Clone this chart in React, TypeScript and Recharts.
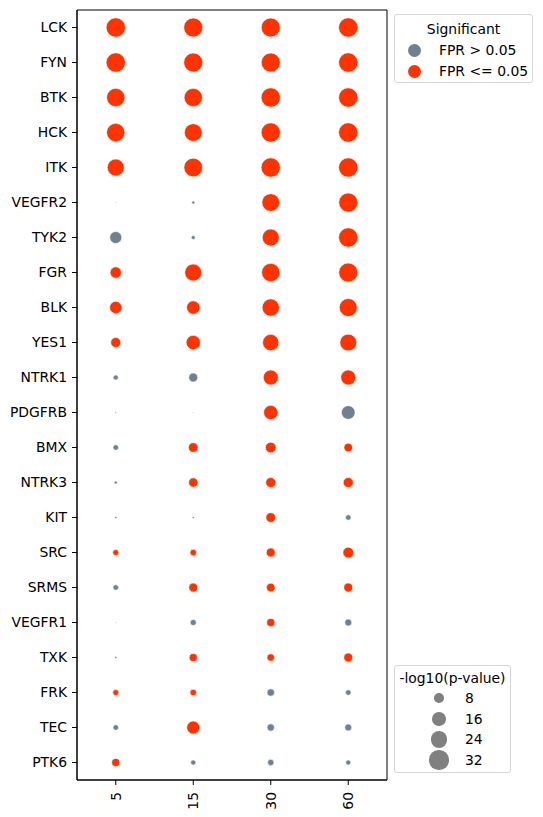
import { ScatterChart, Scatter, XAxis, YAxis, ZAxis, ReferenceArea } from 'recharts'

const genes = ['LCK', 'FYN', 'BTK', 'HCK', 'ITK', 'VEGFR2', 'TYK2', 'FGR', 'BLK', 'YES1', 'NTRK1',
  'PDGFRB', 'BMX', 'NTRK3', 'KIT', 'SRC', 'SRMS', 'VEGFR1', 'TXK', 'FRK', 'TEC', 'PTK6']
const times = ['5', '15', '30', '60']

// -log10(p-value) per time point, in gene order
const logP5 = [31.8, 31.8, 28.5, 28.5, 24.6, 0, 12.2, 10.8, 12.9, 8.5, 2.1, 0.1, 2.5, 0.7, 0.3, 3.0, 2.5, 0, 0.3, 3.0, 2.5, 5.4]
const logP15 = [30.8, 30.8, 28.5, 26.7, 29.8, 0.7, 1.3, 24.6, 15.0, 17.4, 6.8, 0, 8.0, 7.3, 0.3, 3.5, 6.8, 3.0, 5.4, 3.5, 14.4, 2.1]
const logP30 = [30.8, 30.8, 31.8, 31.8, 31.8, 26.7, 24.6, 28.5, 25.5, 22.6, 19.1, 17.4, 9.7, 8.5, 8.0, 6.8, 6.4, 5.4, 4.7, 4.7, 4.5, 3.3]
const logP60 = [31.8, 31.8, 31.8, 31.8, 31.8, 30.8, 31.8, 30.8, 27.6, 23.8, 19.1, 16.0, 6.4, 8.5, 2.5, 9.7, 6.8, 4.1, 6.8, 2.5, 4.1, 2.1]

// 1 = FPR <= 0.05
const sig5 = [1, 1, 1, 1, 1, 0, 0, 1, 1, 1, 0, 0, 0, 0, 0, 1, 0, 0, 0, 1, 0, 1]
const sig15 = [1, 1, 1, 1, 1, 0, 0, 1, 1, 1, 0, 0, 1, 1, 0, 1, 1, 0, 1, 1, 1, 0]
const sig30 = [1, 1, 1, 1, 1, 1, 1, 1, 1, 1, 1, 1, 1, 1, 1, 1, 1, 1, 1, 0, 0, 0]
const sig60 = [1, 1, 1, 1, 1, 1, 1, 1, 1, 1, 1, 0, 1, 1, 0, 1, 1, 0, 1, 0, 0, 0]

const sizeTicks = [8, 16, 24, 32]

const GREY = '#708090'
const RED = '#ff3300'
const Z_MAX = 40
const diam = (v: number) => Math.sqrt(1 + 11.7 * v)
const area = (v: number) => (Math.PI / 4) * diam(v) ** 2

const logP = [logP5, logP15, logP30, logP60]
const sig = [sig5, sig15, sig30, sig60]

const points = times.flatMap((_, j) =>
  genes.map((g, i) => ({ x: j, y: i, z: logP[j][i], sig: sig[j][i], gene: g }))
)
const notSig = points.filter((p) => !p.sig)
const isSig = points.filter((p) => p.sig)

const font = 'DejaVu Sans, sans-serif'

function TimeTick(props: any) {
  const { x, y, payload } = props
  return (
    <g transform={`translate(${x},${y + 5}) rotate(-90)`}>
      <text textAnchor="end" dominantBaseline="central" fill="#000" fontSize={13.9}>
        {times[payload.value]}
      </text>
    </g>
  )
}

const row = (top: number): any => ({
  position: 'absolute',
  top: top - 8,
  height: 16,
  lineHeight: '16px',
  whiteSpace: 'nowrap'
})

const dot = (cx: number, cy: number, d: number, color: string): any => ({
  position: 'absolute',
  left: cx - d / 2,
  top: cy - d / 2,
  width: d,
  height: d,
  borderRadius: '50%',
  background: color
})

const boxStyle: any = {
  position: 'absolute',
  border: '1px solid #d6d6d6',
  borderRadius: 3,
  background: 'rgba(255,255,255,0.8)',
  boxSizing: 'border-box'
}

export default function App() {
  return (
    <div style={{ position: 'absolute', left: 0, top: 0, width: 543, height: 817, fontFamily: font, fontSize: 13.9, color: '#000', background: '#fff' }}>
      <ScatterChart width={543} height={817} margin={{ top: 10, right: 156, bottom: 7, left: 10 }}>
        <XAxis
          type="number"
          dataKey="x"
          domain={[-0.5, 3.5]}
          ticks={[0, 1, 2, 3]}
          interval={0}
          height={30}
          tickSize={5}
          stroke="#000"
          tick={<TimeTick />}
        />
        <YAxis
          type="number"
          dataKey="y"
          domain={[-0.5, 21.5]}
          reversed
          ticks={genes.map((_, i) => i)}
          interval={0}
          width={67}
          tickSize={5}
          tickMargin={5}
          stroke="#000"
          tick={{ fill: '#000', fontSize: 13.9 }}
          tickFormatter={(i: number) => genes[i]}
        />
        <ZAxis type="number" dataKey="z" domain={[0, Z_MAX]} range={[area(0), area(Z_MAX)]} />
        <ReferenceArea x1={-0.5} x2={3.5} y1={-0.5} y2={21.5} fill="none" stroke="#000" strokeWidth={1} />
        <Scatter data={notSig} fill={GREY} stroke="#fff" strokeWidth={0.6} isAnimationActive={false} />
        <Scatter data={isSig} fill={RED} stroke="#fff" strokeWidth={0.6} isAnimationActive={false} />
      </ScatterChart>

      <div style={{ ...boxStyle, left: 394, top: 14, width: 139, height: 69 }}>
        <div style={{ ...row(14), left: 0, width: 137, textAlign: 'center' }}>Significant</div>
        <div style={dot(19, 35, 13, GREY)} />
        <div style={{ ...row(35), left: 44 }}>FPR &gt; 0.05</div>
        <div style={dot(19, 56, 13, RED)} />
        <div style={{ ...row(56), left: 44 }}>FPR &lt;= 0.05</div>
      </div>

      <div style={{ ...boxStyle, left: 394, top: 665, width: 117, height: 108 }}>
        <div style={{ ...row(12), left: 0, width: 115, textAlign: 'center' }}>-log10(p-value)</div>
        {sizeTicks.map((v, k) => (
          <div key={v}>
            <div style={dot(44, 32 + k * 20.7, diam(v), '#808080')} />
            <div style={{ ...row(32 + k * 20.7), left: 70 }}>{v}</div>
          </div>
        ))}
      </div>
    </div>
  )
}
